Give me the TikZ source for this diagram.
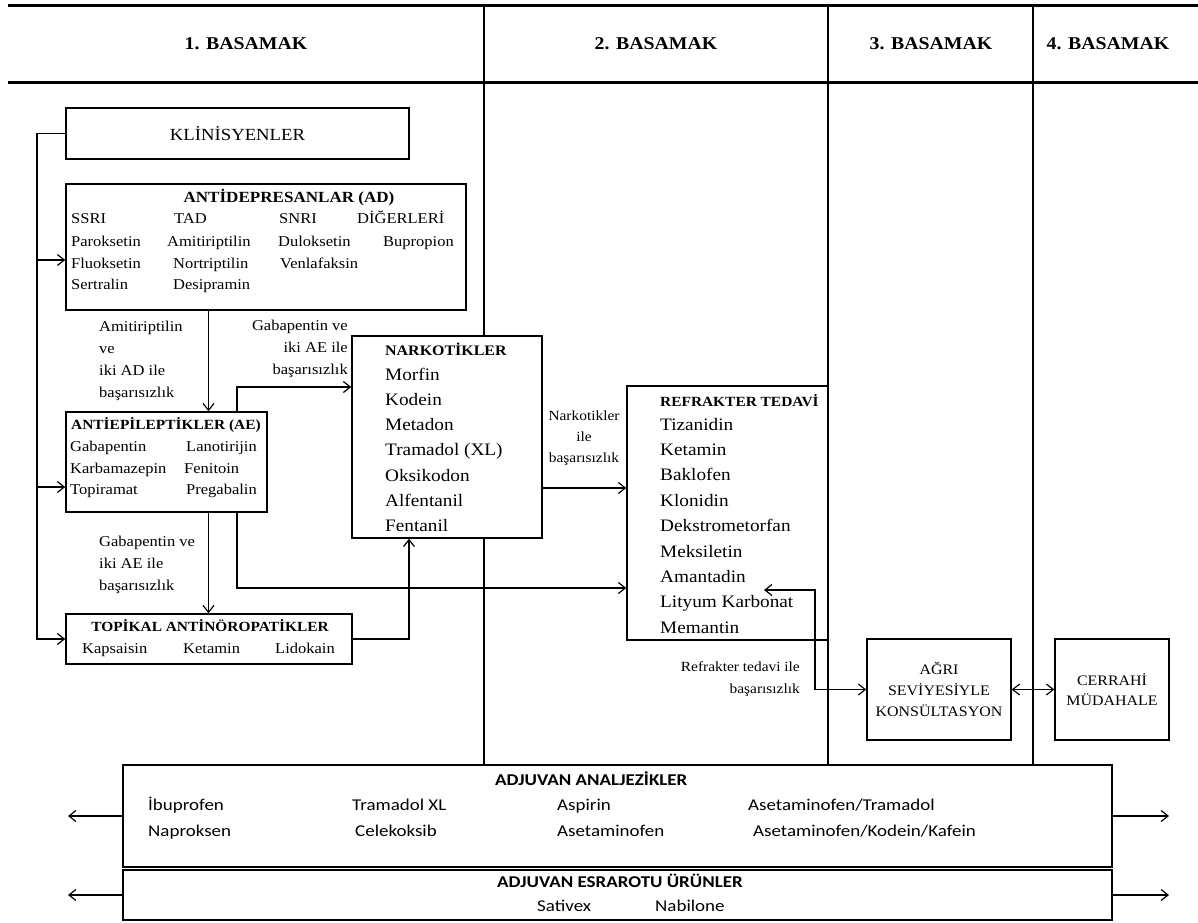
\documentclass[tikz,border=0pt]{standalone}
\usepackage{fontspec}
\setmainfont{Liberation Serif}[FakeStretch=1.1]
\newfontfamily\calibri{Carlito}[FakeStretch=1.15]
\usetikzlibrary{arrows.meta}
\newcommand{\fsz}[2]{\fontsize{#1}{#2}\selectfont}

\tikzset{
  box/.style={draw, line width=1.4pt, fill=white, inner sep=0pt},
  head/.style={font=\fsz{18}{20}\bfseries, inner sep=0pt, anchor=base},
  item/.style={anchor=base west, inner sep=0pt},
  ttl/.style={anchor=base, inner sep=0pt},
  lbl/.style={inner sep=0pt, font=\fsz{15}{22}},
  conn/.style={line width=1.2pt, ->},
}

\begin{document}
\begin{tikzpicture}[x=1pt, y=-1pt, >={Straight Barb[length=7pt,width=11pt]}]
\useasboundingbox (0,0) rectangle (1198,922);

% header and columns
\draw[line width=3pt] (8,5) -- (1198,5);
\draw[line width=3pt] (8,82) -- (1198,82);
\foreach \cx in {484,828,1033}
  \draw[line width=1.3pt] (\cx,5) -- (\cx,765);
\node[head] (h1) at (246,49) {1. BASAMAK};
\node[head] (h2) at (656,49) {2. BASAMAK};
\node[head] (h3) at (931,49) {3. BASAMAK};
\node[head] (h4) at (1108,49) {4. BASAMAK};

% boxes
\node[box, minimum width=343, minimum height=51, font=\fsz{17}{20}] (klin) at (237.5,133.5) {KLİNİSYENLER};
\node[box, minimum width=400, minimum height=126] (ad) at (266,247) {};
\node[box, minimum width=201, minimum height=100] (ae) at (166.5,462) {};
\node[box, minimum width=190, minimum height=202] (nark) at (447,437) {};
\node[box, minimum width=286, minimum height=50] (topk) at (209,639) {};
\node[box, minimum width=201, minimum height=254] (refr) at (727.5,513) {};
\node[box, minimum width=144, minimum height=101, align=center, font=\fsz{14.5}{21}] (agri) at (939,689.5) {AĞRI\\SEVİYESİYLE\\KONSÜLTASYON};
\node[box, minimum width=114, minimum height=101, align=center, font=\fsz{14.5}{20}] (cerr) at (1112,689.5) {CERRAHİ\\MÜDAHALE};
\node[box, minimum width=989, minimum height=102] (adjA) at (617.5,816) {};
\node[box, minimum width=989, minimum height=50] (adjE) at (617.5,895) {};

% antidepresanlar
\node[ttl, font=\fsz{15.5}{18}\bfseries] (adt) at (289,202.5) {ANTİDEPRESANLAR (AD)};
\foreach \x/\y/\t [count=\i] in {71/218/SSRI, 174/218/TAD, 279/218/SNRI, 357/218/DİĞERLERİ,
    71/241/Paroksetin, 167/241/Amitiriptilin, 278/241/Duloksetin, 383/241/Bupropion,
    71/263/Fluoksetin, 173/263/Nortriptilin, 280/263/Venlafaksin,
    71/284/Sertralin, 173/284/Desipramin}
  \node[item, font=\fsz{15}{18}] (adi\i) at (\x,\y+5) {\t};

% antiepileptikler
\node[ttl, font=\fsz{14}{17}\bfseries] (aet) at (166,429) {ANTİEPİLEPTİKLER (AE)};
\foreach \x/\y/\t [count=\i] in {70/446/Gabapentin, 186/446/Lanotirijin,
    70/468/Karbamazepin, 184/468/Fenitoin, 70/489/Topiramat, 186/489/Pregabalin}
  \node[item, font=\fsz{15}{18}] (aei\i) at (\x,\y+5) {\t};

% topikal
\node[ttl, font=\fsz{14}{17}\bfseries] (tpt) at (210,631) {TOPİKAL ANTİNÖROPATİKLER};
\foreach \x/\t [count=\i] in {82/Kapsaisin, 183/Ketamin, 275/Lidokain}
  \node[item, font=\fsz{15}{18}] (tpi\i) at (\x,653) {\t};

% narkotikler
\node[item, font=\fsz{14.5}{17}\bfseries] (nkt) at (385,355) {NARKOTİKLER};
\foreach \t [count=\i from 0] in {Morfin, Kodein, Metadon, Tramadol (XL), Oksikodon, Alfentanil, Fentanil}
  \node[item, font=\fsz{17.5}{20}] (nki\i) at (385,380+25.3*\i) {\t};

% refrakter
\node[item, font=\fsz{14}{17}\bfseries] (rft) at (660,406) {REFRAKTER TEDAVİ};
\foreach \t [count=\i from 0] in {Tizanidin, Ketamin, Baklofen, Klonidin, Dekstrometorfan, Meksiletin, Amantadin, Lityum Karbonat, Memantin}
  \node[item, font=\fsz{17.5}{20}] (rfi\i) at (660,430+25.4*\i) {\t};

% adjuvan
\node[item, font=\calibri\fsz{16.5}{19}\bfseries] (ajt) at (495,785.5) {ADJUVAN ANALJEZİKLER};
\foreach \x/\y/\t [count=\i] in {148/805/İbuprofen, 352/805/Tramadol XL, 557/805/Aspirin, 748/805/{Asetaminofen/Tramadol},
    148/831/Naproksen, 355/831/Celekoksib, 557/831/Asetaminofen, 753/831/{Asetaminofen/Kodein/Kafein}}
  \node[item, font=\calibri\fsz{16.5}{19}] (aji\i) at (\x,\y+5.5) {\t};
\node[item, font=\calibri\fsz{16.5}{19}\bfseries] (aet2) at (497,887.5) {ADJUVAN ESRAROTU ÜRÜNLER};
\node[item, font=\calibri\fsz{16.5}{19}] (aes1) at (537,911.5) {Sativex};
\node[item, font=\calibri\fsz{16.5}{19}] (aes2) at (655,911.5) {Nabilone};

% labels
\node[lbl, align=left, anchor=west] (l1) at (99,361) {Amitiriptilin\\ve\\iki AD ile\\başarısızlık};
\node[lbl, align=right, anchor=east] (l2) at (348,349) {Gabapentin ve\\iki AE ile\\başarısızlık};
\node[lbl, align=left, anchor=west] (l3) at (99,565) {Gabapentin ve\\iki AE ile\\başarısızlık};
\node[lbl, align=center, font=\fsz{14}{21}] (l4) at (584,438) {Narkotikler\\ile\\başarısızlık};
\node[lbl, align=right, anchor=east, font=\fsz{14}{22}] (l5) at (800,679) {Refrakter tedavi ile\\başarısızlık};

% connectors
\coordinate (trunk) at (37,0);
\coordinate (adin) at (37,260);
\coordinate (aein) at (37,487);
\coordinate (c1) at (208.5,0);
\coordinate (c3) at (237,387);
\coordinate (c4) at (237,588);
\coordinate (c5) at (409,0);
\coordinate (c6) at (0,488);
\coordinate (r1) at (764,590);
\coordinate (r2) at (815,689.5);
\coordinate (lft) at (68,0);
\coordinate (rgt) at (1169,0);

\draw[conn] (klin.west) -| (trunk |- topk.west) -- (topk.west);
\draw[conn] (adin) -- (adin -| ad.west);
\draw[conn] (aein) -- (aein -| ae.west);
\draw[conn] (c1 |- ad.south) -- (c1 |- ae.north);
\draw[conn] (c1 |- ae.south) -- (c1 |- topk.north);
\draw[conn] (c3 |- ae.north) -- (c3) -- (c3 -| nark.west);
\draw[conn] (c4 |- ae.south) -- (c4) -- (c4 -| refr.west);
\draw[conn] (topk.east) -| (c5 |- nark.south);
\draw[conn] (c6 -| nark.east) -- (c6 -| refr.west);
\draw[conn, <->] (r1) -| (r2) -- (agri.west);
\draw[conn, <->] (agri.east) -- (cerr.west);
\draw[conn] (adjA.west) -- (adjA.west -| lft);
\draw[conn] (adjE.west) -- (adjE.west -| lft);
\draw[conn] (adjA.east) -- (adjA.east -| rgt);
\draw[conn] (adjE.east) -- (adjE.east -| rgt);

\end{tikzpicture}
\end{document}
